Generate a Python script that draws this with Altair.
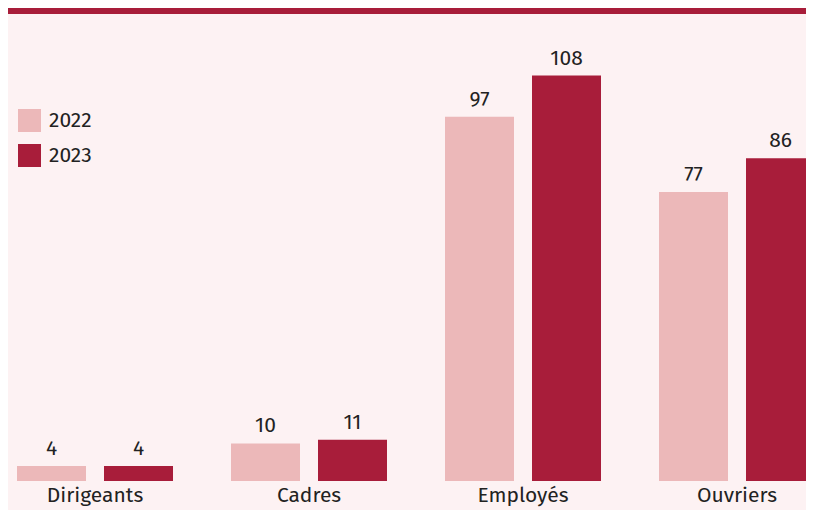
import altair as alt
import pandas as pd

categories = ["Dirigeants", "Cadres", "Employés", "Ouvriers"]
years = ["2022", "2023"]
values_2022 = [4, 10, 97, 77]
values_2023 = [4, 11, 108, 86]
colors = ["#ecb8b9", "#a81d3a"]

rows = []
for c, v in zip(categories, values_2022):
    rows.append({"cat": c, "year": "2022", "value": v})
for c, v in zip(categories, values_2023):
    rows.append({"cat": c, "year": "2023", "value": v})
df = pd.DataFrame(rows)

FONT = "Fira Sans, Open Sans, Noto Sans, sans-serif"

base = alt.Chart(df).encode(
    x=alt.X(
        "cat:N",
        sort=categories,
        title=None,
        scale=alt.Scale(range=[9, 807], paddingInner=0.271, paddingOuter=0),
        axis=alt.Axis(
            labelAngle=0,
            domain=False,
            ticks=False,
            labelFontSize=21,
            labelColor="#222222",
            labelPadding=3,
            labelFont=FONT,
        ),
    ),
    xOffset=alt.XOffset("year:N", sort=years, scale=alt.Scale(paddingInner=0.207, paddingOuter=0)),
    y=alt.Y("value:Q", axis=None, scale=alt.Scale(domain=[0, 126], nice=False)),
)

bars = base.mark_bar().encode(
    color=alt.Color(
        "year:N",
        sort=years,
        scale=alt.Scale(domain=years, range=colors),
        legend=alt.Legend(
            title=None,
            orient="none",
            legendX=10,
            legendY=101,
            symbolType="square",
            symbolSize=529,
            symbolStrokeWidth=0,
            symbolOpacity=1,
            labelFontSize=21,
            labelFont=FONT,
            labelColor="#222222",
            labelOffset=8,
            rowPadding=12,
        ),
    )
)

labels = base.mark_text(
    baseline="bottom", dy=-7, fontSize=21, font=FONT, color="#222222"
).encode(text=alt.Text("value:Q"))

topbar = alt.Chart(pd.DataFrame({"k": [1]})).mark_rect(color="#a81d3a").encode(
    x=alt.value(0), x2=alt.value(798), y=alt.value(0), y2=alt.value(6)
)

chart = (
    alt.layer(bars, labels, topbar)
    .properties(
        width=798,
        height=473,
        background="#fdf2f3",
        padding={"left": 0, "top": 0, "right": 0, "bottom": 29},
        autosize=alt.AutoSizeParams(type="none"),
    )
    .configure_view(stroke=None)
)

chart.save("out.html", embed_options={"renderer": "svg", "actions": False})
